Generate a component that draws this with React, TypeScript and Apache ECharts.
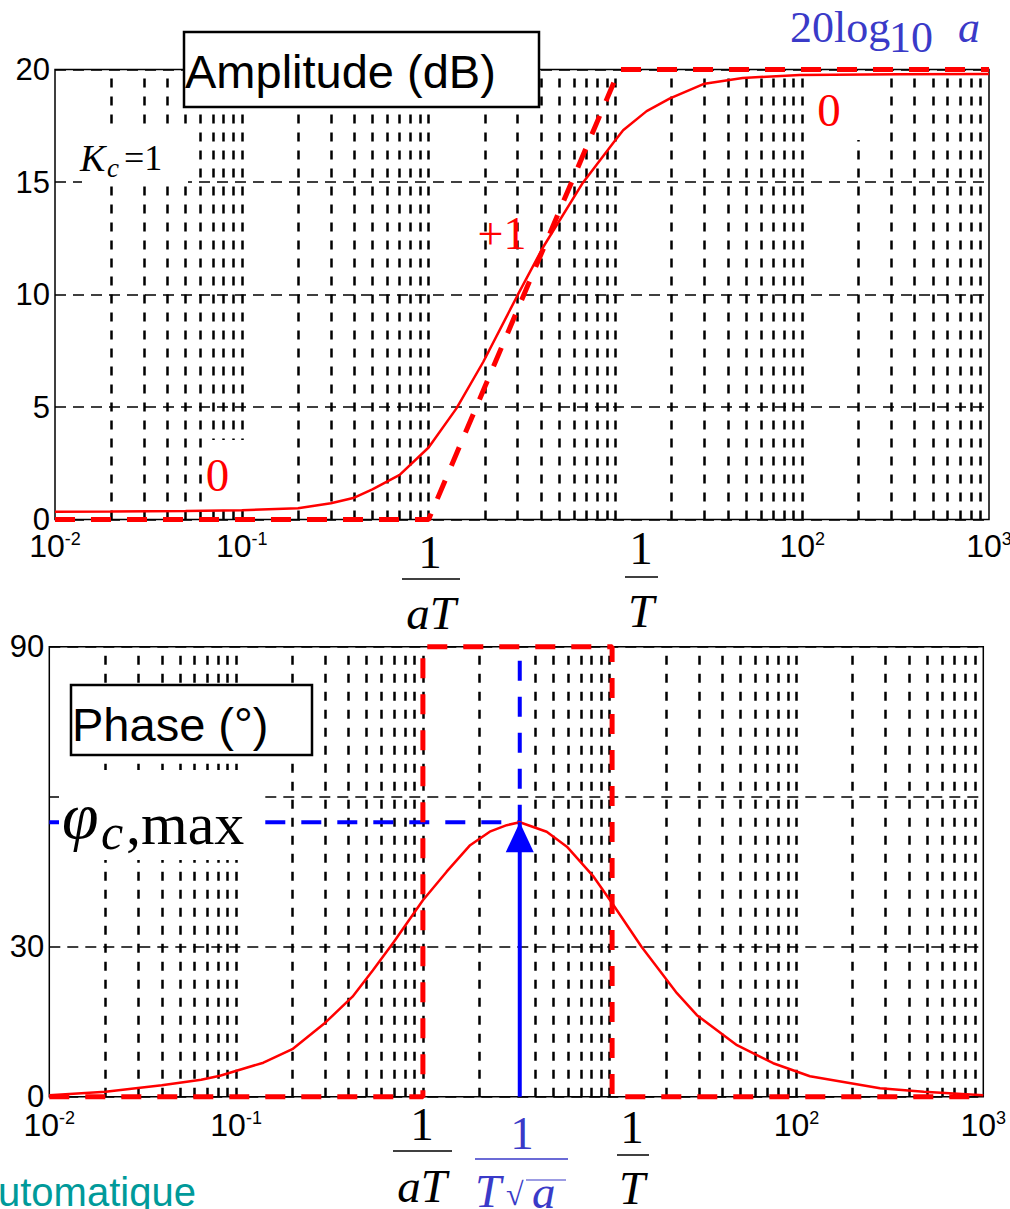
import React, { useEffect, useRef } from 'react';
import * as echarts from 'echarts';

// Gain of the lead compensator (rad/s, dB)
const magW = [0.01, 0.02, 0.05, 0.1, 0.2, 0.3, 0.4, 0.5, 0.7, 1.0, 1.41, 1.96, 3.0, 4.1, 6.7, 9.75, 11, 14.7, 19.6, 30, 48, 97, 330, 1000];
const magDb = [0.35, 0.36, 0.38, 0.41, 0.5, 0.72, 0.97, 1.34, 1.98, 3.2, 4.94, 7.0, 9.98, 12.1, 14.97, 16.74, 17.3, 18.15, 18.72, 19.37, 19.62, 19.76, 19.79, 19.8];

// Phase of the lead compensator (rad/s, degrees)
const phaseW = [0.01, 0.02, 0.04, 0.065, 0.082, 0.14, 0.2, 0.3, 0.42, 0.54, 0.7, 1.0, 1.34, 1.79, 2.28, 2.81, 3.3, 4.6, 5.9, 8.2, 10.4, 14.8, 22.9, 29.3, 48, 75, 118, 280, 480, 1000];
const phaseDeg = [0.3, 1.0, 2.3, 3.4, 4.2, 6.8, 9.5, 14.8, 20, 25.3, 31, 39.3, 45, 50.3, 53, 54.3, 54.9, 53, 50, 44, 38.5, 30, 20.7, 16.3, 10.3, 6.7, 4.1, 1.7, 1.0, 0.3];

// Straight-line asymptotes
const magAsymW = [0.01, 1, 10.5, 1000];
const magAsymDb = [0, 0, 20, 20];
const phaseAsymW = [0.01, 1, 1, 10.3, 10.3, 1000];
const phaseAsymDeg = [0, 0, 90, 90, 0, 0];

// Maximum phase lead: frequency 1/(T*sqrt(a)) and value
const wPeak = 3.3;
const phiPeak = 54.9;

// Axes
const freqMin = 0.01;
const freqMax = 1000;
const gainMin = 0;
const gainMax = 20;
const gainStep = 5;
const phaseMin = 0;
const phaseMax = 90;
const phaseStep = 30;
const hiddenPhaseLabels = [60];
const hiddenDecadeExponents = [0, 1]; // these decades carry the 1/aT and 1/T labels instead
const missingPhaseGrid = [3];

const SERIF = '"Liberation Serif","Times New Roman",Times,serif';
const SANS = '"Liberation Sans",Arial,Helvetica,sans-serif';
const RED = '#ff0000';
const BLUE = '#0000ff';
const LABEL_BLUE = '#3a3ac8';
const TEAL = '#009a9a';

// vertical log-grid positions (2..9 x 10^k and the inner decades)
function logGrid(skip: number[]): number[] {
  const out: number[] = [];
  for (let e = -2; e < 3; e++) {
    for (let m = 1; m <= 9; m++) {
      const v = Number((m * Math.pow(10, e)).toPrecision(3));
      if (v > freqMin && v < freqMax && !skip.includes(v)) out.push(v);
    }
  }
  return out;
}

function text(t: string, x: number, y: number, font: string, fill: string, align = 'left', z = 7) {
  return {
    type: 'text',
    z,
    x,
    y,
    style: { text: t, font, fill, align, verticalAlign: 'middle', textAlign: align, textVerticalAlign: 'middle' },
  };
}

function box(x: number, y: number, w: number, h: number, border: boolean) {
  return {
    type: 'rect',
    z: 3,
    shape: { x, y, width: w, height: h },
    style: { fill: '#fff', stroke: border ? '#000' : null, lineWidth: border ? 2.5 : 0 },
  };
}

function bar(x1: number, x2: number, y: number, color: string) {
  return { type: 'line', z: 7, shape: { x1, y1: y, x2, y2: y }, style: { stroke: color, lineWidth: 1.5 } };
}

const expLabel = (v: number) => {
  const e = Math.round(Math.log10(v));
  return hiddenDecadeExponents.includes(e) ? '' : `{b|10}{s|${e}}`;
};

const expRich = {
  b: { fontFamily: SANS, fontSize: 32, lineHeight: 32, verticalAlign: 'bottom', color: '#000' },
  s: { fontFamily: SANS, fontSize: 18, lineHeight: 18, verticalAlign: 'top', padding: [0, 0, 23, 0], color: '#000' },
};

function xAxisFor(gridIndex: number, margin: number) {
  return {
    type: 'log',
    logBase: 10,
    gridIndex,
    min: freqMin,
    max: freqMax,
    splitNumber: 5,
    axisLine: { show: false },
    axisTick: { show: false },
    splitLine: { show: false },
    axisLabel: { margin, formatter: expLabel, rich: expRich },
  };
}

function yAxisFor(gridIndex: number, min: number, max: number, interval: number, hidden: number[]) {
  return {
    type: 'value',
    gridIndex,
    min,
    max,
    interval,
    axisLine: { show: false },
    axisTick: { show: false },
    splitLine: { show: true, lineStyle: { color: '#000', width: 1.5, type: [11, 7] } },
    axisLabel: {
      margin: 5,
      fontFamily: SANS,
      fontSize: 31,
      color: '#000',
      padding: [6, 0, 0, 0],
      formatter: (v: number) => (hidden.includes(v) ? '' : String(v)),
    },
  };
}

function gridSeries(axisIndex: number, values: number[], yAt: number) {
  return {
    type: 'line',
    xAxisIndex: axisIndex,
    yAxisIndex: axisIndex,
    z: 1,
    silent: true,
    showSymbol: false,
    lineStyle: { width: 0, opacity: 0 },
    data: [[freqMin, yAt]],
    markLine: {
      z: 1,
      silent: true,
      animation: false,
      symbol: 'none',
      label: { show: false },
      lineStyle: { color: '#000', width: 2.5, type: [9, 9] },
      data: values.map((v) => ({ xAxis: v })),
    },
  };
}

const zip = (xs: number[], ys: number[]) => xs.map((x, i) => [x, ys[i]]);

function buildOption() {
  return {
    animation: false,
    backgroundColor: '#fff',
    grid: [
      { left: 55, top: 69.5, width: 934, height: 450, show: true, borderColor: '#000', borderWidth: 1.5, backgroundColor: 'transparent', containLabel: false, outerBoundsMode: 'none' },
      { left: 49.3, top: 646.7, width: 934, height: 450, show: true, borderColor: '#000', borderWidth: 1.5, backgroundColor: 'transparent', containLabel: false, outerBoundsMode: 'none' },
    ],
    xAxis: [xAxisFor(0, 10), xAxisFor(1, 12)],
    yAxis: [
      yAxisFor(0, gainMin, gainMax, gainStep, []),
      yAxisFor(1, phaseMin, phaseMax, phaseStep, hiddenPhaseLabels),
    ],
    series: [
      gridSeries(0, logGrid([]), gainMin),
      gridSeries(1, logGrid(missingPhaseGrid), phaseMin),
      {
        type: 'line',
        xAxisIndex: 0,
        yAxisIndex: 0,
        z: 4,
        clip: false,
        showSymbol: false,
        lineStyle: { color: RED, width: 5, type: [20, 16] },
        data: zip(magAsymW, magAsymDb),
      },
      {
        type: 'line',
        xAxisIndex: 0,
        yAxisIndex: 0,
        z: 5,
        clip: false,
        showSymbol: false,
        lineStyle: { color: RED, width: 2.5 },
        data: zip(magW, magDb),
      },
      {
        type: 'line',
        xAxisIndex: 1,
        yAxisIndex: 1,
        z: 2,
        clip: false,
        showSymbol: false,
        lineStyle: { color: BLUE, width: 4, type: [20, 16] },
        data: [[freqMin, phiPeak], [wPeak, phiPeak], [wPeak, phaseMax]],
      },
      {
        type: 'line',
        xAxisIndex: 1,
        yAxisIndex: 1,
        z: 4,
        clip: false,
        showSymbol: false,
        lineStyle: { color: RED, width: 5, type: [20, 16] },
        data: zip(phaseAsymW, phaseAsymDeg),
      },
      {
        type: 'line',
        xAxisIndex: 1,
        yAxisIndex: 1,
        z: 5,
        clip: false,
        showSymbol: false,
        lineStyle: { color: RED, width: 2.5 },
        data: zip(phaseW, phaseDeg),
      },
      {
        type: 'line',
        xAxisIndex: 1,
        yAxisIndex: 1,
        z: 6,
        clip: false,
        showSymbol: true,
        showAllSymbol: true,
        itemStyle: { color: BLUE },
        lineStyle: { color: BLUE, width: 4 },
        data: [
          { value: [wPeak, phaseMin], symbol: 'none' },
          { value: [wPeak, phiPeak], symbol: 'triangle', symbolSize: [28, 30], symbolOffset: [0, 15] },
        ],
      },
    ],
    graphic: {
      elements: [
        // white label backgrounds
        box(184, 32, 355, 75, true),
        box(71, 685, 241, 70, true),
        box(82, 127, 106, 57, false),
        box(203, 440, 43, 62, false),
        box(812, 71, 50, 69, false),
        box(59, 770, 206, 90, false),

        text('Amplitude (dB)', 185, 71, `47px ${SANS}`, '#000'),
        text('Phase (°)', 72, 724, `47px ${SANS}`, '#000'),

        text('K', 80, 158, `italic 38px ${SERIF}`, '#000'),
        text('c', 107, 168, `italic 27px ${SERIF}`, '#000'),
        text('=1', 124, 158, `36px ${SERIF}`, '#000'),

        text('0', 217.5, 475, `47px ${SERIF}`, RED, 'center'),
        text('0', 829, 110, `47px ${SERIF}`, RED, 'center'),
        text('+1', 502, 233, `46px ${SERIF}`, RED, 'center'),

        text('20log', 790, 27, `44px ${SERIF}`, LABEL_BLUE),
        text('10', 889, 37, `44px ${SERIF}`, LABEL_BLUE),
        text('a', 958, 27, `italic 44px ${SERIF}`, LABEL_BLUE),

        text('φ', 62, 815, `italic 66px ${SERIF}`, '#000'),
        text('c', 101, 832, `italic 50px ${SERIF}`, '#000'),
        text(',max', 126, 824, `60px ${SERIF}`, '#000'),

        // 1/aT and 1/T under the gain plot
        text('1', 430, 552, `47px ${SERIF}`, '#000', 'center'),
        bar(402, 460, 579, '#000'),
        text('aT', 431, 613, `italic 47px ${SERIF}`, '#000', 'center'),
        text('1', 641, 548, `47px ${SERIF}`, '#000', 'center'),
        bar(625, 658, 577, '#000'),
        text('T', 641, 611, `italic 47px ${SERIF}`, '#000', 'center'),

        // 1/aT, 1/(T sqrt a) and 1/T under the phase plot
        text('1', 422, 1124, `47px ${SERIF}`, '#000', 'center'),
        bar(393, 452, 1151, '#000'),
        text('aT', 422, 1186, `italic 47px ${SERIF}`, '#000', 'center'),
        text('1', 522, 1133, `47px ${SERIF}`, LABEL_BLUE, 'center'),
        bar(475, 568, 1159, LABEL_BLUE),
        text('T', 475, 1191, `italic 47px ${SERIF}`, LABEL_BLUE),
        text('√', 506, 1194, `32px ${SERIF}`, LABEL_BLUE),
        text('a', 532, 1192, `italic 47px ${SERIF}`, LABEL_BLUE),
        { type: 'line', z: 7, shape: { x1: 526, y1: 1180, x2: 566, y2: 1180 }, style: { stroke: LABEL_BLUE, lineWidth: 1.2 } },
        text('1', 632, 1127, `47px ${SERIF}`, '#000', 'center'),
        bar(617, 649, 1155, '#000'),
        text('T', 632, 1188, `italic 47px ${SERIF}`, '#000', 'center'),

        text('utomatique', -2, 1192, `40px ${SANS}`, TEAL),
      ],
    },
  };
}

export default function App() {
  const ref = useRef<HTMLDivElement>(null);
  useEffect(() => {
    if (!ref.current) return;
    const chart = echarts.init(ref.current, null, { renderer: 'svg', width: 1010, height: 1209 });
    chart.setOption(buildOption() as any);
    return () => chart.dispose();
  }, []);
  return (
    <div
      ref={ref}
      style={{ position: 'absolute', left: 0, top: 0, width: 1010, height: 1209, background: '#fff' }}
    />
  );
}
